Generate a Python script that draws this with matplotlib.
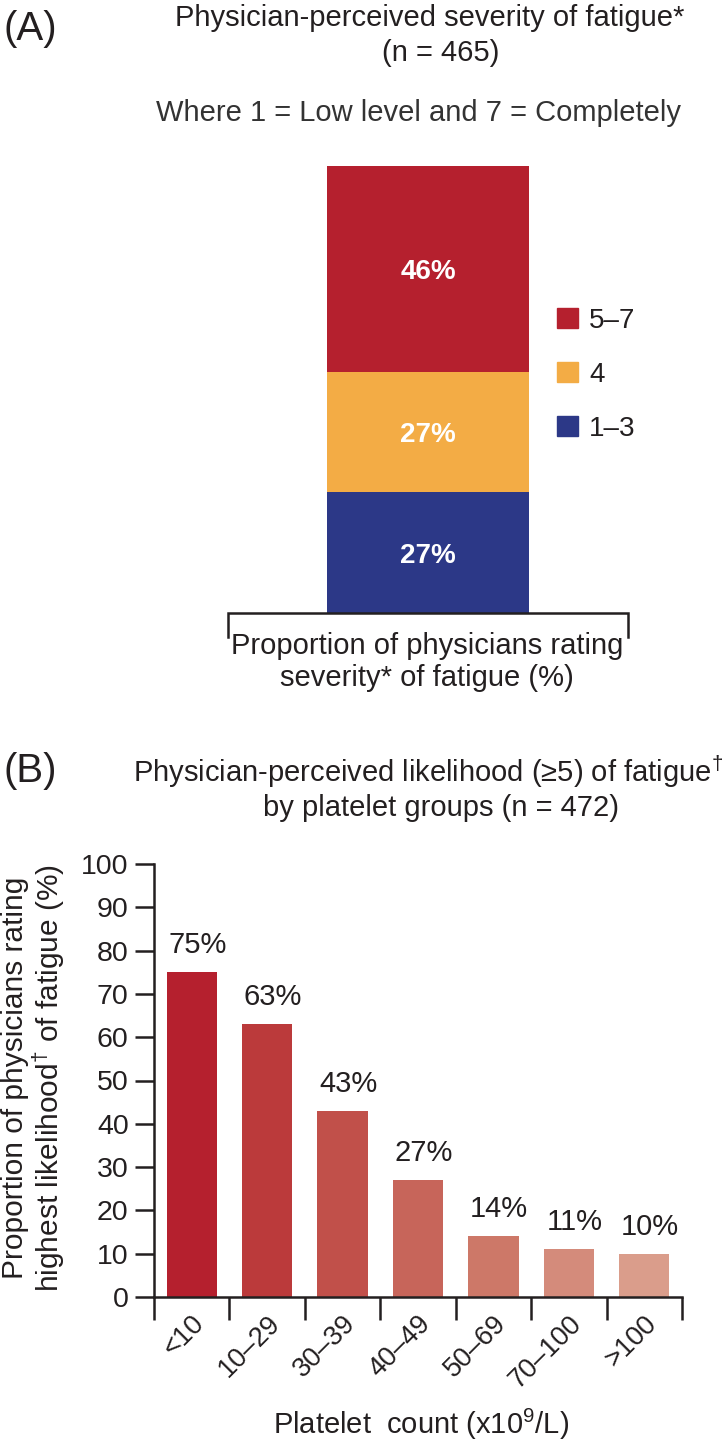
import numpy as np
import matplotlib
matplotlib.use('Agg')
import matplotlib.pyplot as plt
import matplotlib.transforms as mtransforms
from matplotlib.patches import Patch

plt.rcParams['font.family'] = ['Liberation Sans', 'DejaVu Sans']
plt.rcParams['mathtext.fontset'] = 'custom'
plt.rcParams['mathtext.rm'] = 'Liberation Sans'
plt.rcParams['mathtext.it'] = 'Liberation Sans:italic'
plt.rcParams['mathtext.bf'] = 'Liberation Sans:bold'

# panel A: severity rating (stacked, bottom to top)
sev_groups = ['1–3', '4', '5–7']
sev_pct = [27, 27, 46]
sev_colors = ['#2C3887', '#F3AC45', '#B5202E']

# panel B: likelihood by platelet group
plt_groups = ['<10', '10–29', '30–39', '40–49', '50–69', '70–100', '>100']
plt_pct = [75, 63, 43, 27, 14, 11, 10]
plt_colors = ['#B5202E', '#BB3A3B', '#C1504A', '#C7655A', '#CD7868', '#D48B7B', '#DA9D8B']

txt = '#231F20'
W, H = 722, 1443
fig = plt.figure(figsize=(W / 100, H / 100), dpi=100)

def fx(px):
    return px / W

def fy(py):
    return 1 - py / H

# ---------------- panel A ----------------
fig.text(fx(4), fy(29), '(A)', fontsize=29, color=txt, ha='left', va='center')
fig.text(fx(430), fy(18), 'Physician-perceived severity of fatigue*', fontsize=21,
         color=txt, ha='center', va='center')
fig.text(fx(441), fy(53), '(n = 465)', fontsize=21, color=txt, ha='center', va='center')
fig.text(fx(418), fy(113), 'Where 1 = Low level and 7 = Completely', fontsize=21,
         color='#333333', ha='center', va='center')

axA = fig.add_axes([fx(228), fy(613), (628 - 228) / W, (613 - 166) / H])
axA.set_xlim(0, 1)
axA.set_ylim(0, 100)
axA.axis('off')
bottom = 0
for g, v, c in zip(sev_groups, sev_pct, sev_colors):
    axA.bar(0.5, v, width=202 / 400, bottom=bottom, color=c, linewidth=0)
    axA.text(0.5, bottom + v / 2, f'{v}%', color='white', fontsize=20, fontweight='bold',
             ha='center', va='center_baseline')
    bottom += v

# bracket under the bar
axA.plot([0, 0, 1, 1], [-0.054, 0, 0, -0.054], transform=axA.transAxes, color=txt,
         lw=1.8, clip_on=False, solid_joinstyle='miter')
fig.text(fx(427), fy(662), 'Proportion of physicians rating\nseverity* of fatigue (%)',
         fontsize=21, color=txt, ha='center', va='center', multialignment='center',
         linespacing=1.15)

handles = [Patch(color=c, label=g) for g, c in zip(sev_groups, sev_colors)][::-1]
axA.legend(handles=handles, loc='upper left', bbox_to_anchor=(fx(557), fy(308)),
           bbox_transform=fig.transFigure, frameon=False, fontsize=20,
           handlelength=0.75, handleheight=0.75, handletextpad=0.4,
           labelspacing=1.0, borderpad=0, borderaxespad=0, labelcolor=txt)

# ---------------- panel B ----------------
fig.text(fx(4), fy(771), '(B)', fontsize=29, color=txt, ha='left', va='center')
fig.text(fx(428), fy(772), 'Physician-perceived likelihood (≥5) of fatigue$^{\\dagger}$',
         fontsize=21, color=txt, ha='center', va='center')
fig.text(fx(441), fy(808), 'by platelet groups (n = 472)', fontsize=21, color=txt,
         ha='center', va='center')

axB = fig.add_axes([fx(154), fy(1297), (682 - 154) / W, (1297 - 864) / H])
x = np.arange(len(plt_groups))
axB.bar(x, plt_pct, width=0.667, color=plt_colors, linewidth=0)
axB.set_xlim(-0.5, len(plt_groups) - 0.5)
axB.set_ylim(0, 100)
for s in ['top', 'right']:
    axB.spines[s].set_visible(False)
for s in ['left', 'bottom']:
    axB.spines[s].set_linewidth(1.8)
    axB.spines[s].set_color(txt)

axB.set_yticks(np.arange(0, 101, 10))
axB.tick_params(axis='y', length=13.7, width=1.8, labelsize=20.5, pad=4.5, colors=txt)
axB.set_xticks(x)
axB.set_xticks(np.arange(-0.5, len(plt_groups), 1), minor=True)
axB.tick_params(axis='x', which='minor', length=16.6, width=1.8, color=txt)
axB.tick_params(axis='x', which='major', length=0, pad=16.5, labelsize=19.5, labelcolor=txt)
axB.set_xticklabels(plt_groups, rotation=45, ha='right', va='center', rotation_mode='anchor')
shift = mtransforms.ScaledTranslation(6.5 / 72, 0, fig.dpi_scale_trans)
for lab in axB.get_xticklabels():
    lab.set_transform(lab.get_transform() + shift)

for i, v in enumerate(plt_pct):
    axB.annotate(f'{v}%', (i, v), xytext=(4, 13.7), textcoords='offset points',
                 ha='center', va='baseline', fontsize=21, color=txt)

fig.text(fx(34), fy(1078), 'Proportion of physicians rating\nhighest likelihood$^{\\dagger}$ of fatigue (%)',
         fontsize=21.5, color=txt, rotation=90, ha='center', va='center',
         multialignment='center', linespacing=1.05)
fig.text(fx(421), fy(1424), 'Platelet  count (x10$^{9}$/L)', fontsize=21, color=txt,
         ha='center', va='center')

fig.savefig('out.png', dpi=100)
